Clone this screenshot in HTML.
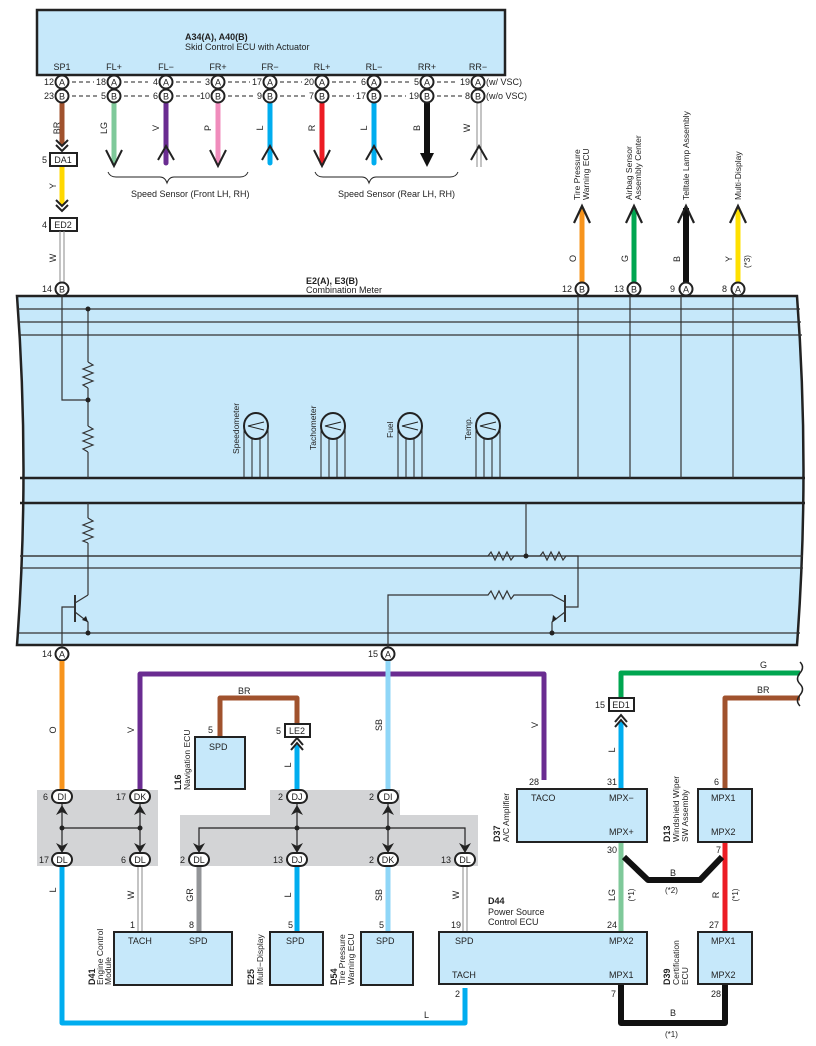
<!DOCTYPE html>
<html><head><meta charset="utf-8"><style>
body{margin:0;background:#fff}
svg{display:block;font-family:"Liberation Sans",sans-serif}
text{fill:#222}
</style></head><body>
<svg width="816" height="1046" viewBox="0 0 816 1046" xmlns="http://www.w3.org/2000/svg">
<defs>
<g id="ca"><circle r="6.5" fill="#fff" stroke="#222" stroke-width="2"/><text y="3.5" text-anchor="middle" font-size="9">A</text></g>
<g id="cb"><circle r="6.5" fill="#fff" stroke="#222" stroke-width="2"/><text y="3.5" text-anchor="middle" font-size="9">B</text></g>
</defs>
<!-- Top ECU box -->
<rect x="37" y="10" width="468" height="65" fill="#c6e8fa" stroke="#222" stroke-width="2.5"/>
<text x="185" y="40" font-size="9" font-weight="bold">A34(A), A40(B)</text>
<text x="185" y="50" font-size="9">Skid Control ECU with Actuator</text>
<g font-size="9" text-anchor="middle">
<text x="62" y="70">SP1</text><text x="114" y="70">FL+</text><text x="166" y="70">FL−</text><text x="218" y="70">FR+</text><text x="270" y="70">FR−</text><text x="322" y="70">RL+</text><text x="374" y="70">RL−</text><text x="427" y="70">RR+</text><text x="478" y="70">RR−</text>
</g>
<g stroke="#222" stroke-width="1" stroke-dasharray="4,3">
<line x1="72" y1="82" x2="94" y2="82"/><line x1="124" y1="82" x2="148" y2="82"/><line x1="176" y1="82" x2="202" y2="82"/><line x1="228" y1="82" x2="250" y2="82"/><line x1="280" y1="82" x2="302" y2="82"/><line x1="332" y1="82" x2="356" y2="82"/><line x1="384" y1="82" x2="410" y2="82"/><line x1="437" y1="82" x2="458" y2="82"/>
<line x1="72" y1="96" x2="98" y2="96"/><line x1="124" y1="96" x2="150" y2="96"/><line x1="176" y1="96" x2="200" y2="96"/><line x1="228" y1="96" x2="254" y2="96"/><line x1="280" y1="96" x2="306" y2="96"/><line x1="332" y1="96" x2="354" y2="96"/><line x1="384" y1="96" x2="406" y2="96"/><line x1="437" y1="96" x2="462" y2="96"/>
</g>
<g font-size="9" text-anchor="end">
<text x="54" y="85">12</text><text x="106" y="85">18</text><text x="158" y="85">4</text><text x="210" y="85">3</text><text x="262" y="85">17</text><text x="314" y="85">20</text><text x="366" y="85">6</text><text x="419" y="85">5</text><text x="470" y="85">19</text>
<text x="54" y="99">23</text><text x="106" y="99">5</text><text x="158" y="99">6</text><text x="210" y="99">10</text><text x="262" y="99">9</text><text x="314" y="99">7</text><text x="366" y="99">17</text><text x="419" y="99">19</text><text x="470" y="99">8</text>
</g>
<text x="486" y="85" font-size="9">(w/ VSC)</text><text x="486" y="99" font-size="9">(w/o VSC)</text>
<g stroke-linecap="round">
<line x1="114" y1="103" x2="114" y2="163" stroke="#7fc99a" stroke-width="5"/>
<line x1="166" y1="103" x2="166" y2="163" stroke="#6a2c91" stroke-width="5"/>
<line x1="218" y1="103" x2="218" y2="163" stroke="#f08cbc" stroke-width="5"/>
<line x1="270" y1="103" x2="270" y2="163" stroke="#00adef" stroke-width="5"/>
<line x1="322" y1="103" x2="322" y2="163" stroke="#ec1c24" stroke-width="5"/>
<line x1="374" y1="103" x2="374" y2="163" stroke="#00adef" stroke-width="5"/>
<line x1="427" y1="103" x2="427" y2="160" stroke="#111" stroke-width="6"/>
</g>
<line x1="477" y1="103" x2="477" y2="167" stroke="#888" stroke-width="1"/><line x1="481" y1="103" x2="481" y2="167" stroke="#888" stroke-width="1"/>
<g fill="none" stroke="#222" stroke-width="2">
<polyline points="106,150 114,166 122,150"/><polyline points="210,150 218,166 226,150"/><polyline points="314,150 322,166 330,150"/>
<polyline points="158,160 166,146 174,160"/><polyline points="262,160 270,146 278,160"/><polyline points="366,160 374,146 382,160"/><polyline points="471,160 479,146 487,160"/>
</g>
<polygon points="420,153 434,153 427,167" fill="#111"/>
<path d="M108,172 q2,5 8,5 H160 q5,0 7,6 q2,-6 7,-6 H240 q6,0 8,-5" fill="none" stroke="#222" stroke-width="1"/>
<path d="M315,172 q2,5 8,5 H362 q5,0 7,6 q2,-6 7,-6 H450 q6,0 8,-5" fill="none" stroke="#222" stroke-width="1"/>
<text x="131" y="197" font-size="9">Speed Sensor (Front LH,  RH)</text>
<text x="338" y="197" font-size="9">Speed Sensor (Rear LH,  RH)</text>
<g font-size="9">
<text transform="translate(60,128) rotate(-90)" text-anchor="middle">BR</text>
<text transform="translate(107,128) rotate(-90)" text-anchor="middle">LG</text>
<text transform="translate(159,128) rotate(-90)" text-anchor="middle">V</text>
<text transform="translate(211,128) rotate(-90)" text-anchor="middle">P</text>
<text transform="translate(263,128) rotate(-90)" text-anchor="middle">L</text>
<text transform="translate(315,128) rotate(-90)" text-anchor="middle">R</text>
<text transform="translate(367,128) rotate(-90)" text-anchor="middle">L</text>
<text transform="translate(420,128) rotate(-90)" text-anchor="middle">B</text>
<text transform="translate(470,128) rotate(-90)" text-anchor="middle">W</text>
</g>
<line x1="62" y1="103" x2="62" y2="145" stroke="#a0522d" stroke-width="5"/>
<g fill="none" stroke="#222" stroke-width="2"><polyline points="56,140 62,146 68,140"/><polyline points="56,145 62,151 68,145"/></g>
<rect x="50" y="153" width="27" height="13" fill="#fff" stroke="#222" stroke-width="2"/><text x="63" y="163" font-size="9" text-anchor="middle">DA1</text><text x="42" y="163" font-size="9">5</text>
<line x1="62" y1="167" x2="62" y2="205" stroke="#ffd800" stroke-width="5"/>
<text transform="translate(56,186) rotate(-90)" font-size="9" text-anchor="middle">Y</text>
<g fill="none" stroke="#222" stroke-width="2"><polyline points="56,200 62,206 68,200"/><polyline points="56,205 62,211 68,205"/></g>
<rect x="50" y="218" width="27" height="13" fill="#fff" stroke="#222" stroke-width="2"/><text x="63" y="228" font-size="9" text-anchor="middle">ED2</text><text x="42" y="228" font-size="9">4</text>
<line x1="60" y1="231" x2="60" y2="283" stroke="#888"/><line x1="64" y1="231" x2="64" y2="283" stroke="#888"/>
<text transform="translate(56,258) rotate(-90)" font-size="9" text-anchor="middle">W</text>
<!-- Top right wires -->
<line x1="582" y1="208" x2="582" y2="283" stroke="#f7941d" stroke-width="5"/>
<line x1="634" y1="208" x2="634" y2="283" stroke="#00a650" stroke-width="5"/>
<line x1="686" y1="208" x2="686" y2="283" stroke="#111" stroke-width="6"/>
<line x1="738" y1="208" x2="738" y2="283" stroke="#ffe000" stroke-width="5"/>
<g fill="none" stroke="#222" stroke-width="2.2"><polyline points="574,223 582,206 590,223"/><polyline points="626,223 634,206 642,223"/><polyline points="678,223 686,206 694,223"/><polyline points="730,223 738,206 746,223"/></g>
<g font-size="8.5">
<text transform="translate(580,200) rotate(-90)">Tire Pressure</text><text transform="translate(589,200) rotate(-90)">Warning ECU</text>
<text transform="translate(632,200) rotate(-90)">Airbag Sensor</text><text transform="translate(641,200) rotate(-90)">Assembly Center</text>
<text transform="translate(689,200) rotate(-90)">Telltale Lamp Assembly</text>
<text transform="translate(741,200) rotate(-90)">Multi-Display</text>
<text transform="translate(576,262) rotate(-90)" font-size="9">O</text>
<text transform="translate(628,262) rotate(-90)" font-size="9">G</text>
<text transform="translate(680,262) rotate(-90)" font-size="9">B</text>
<text transform="translate(732,262) rotate(-90)" font-size="9">Y</text>
<text transform="translate(750,268) rotate(-90)" font-size="8">(*3)</text>
</g>
<!-- Combination meter -->
<path d="M17,296 H797 Q810,470 797,645 H17 Q30,470 17,296 Z" fill="#c6e8fa" stroke="#222" stroke-width="2.5"/>
<g stroke="#333" stroke-width="1.2">
<line x1="18" y1="309" x2="800" y2="309"/><line x1="19" y1="322" x2="801" y2="322"/><line x1="20" y1="335" x2="802" y2="335"/>
<line x1="20" y1="556" x2="803" y2="556"/><line x1="20" y1="568" x2="803" y2="568"/><line x1="19" y1="633" x2="800" y2="633"/>
</g>
<g stroke="#222" stroke-width="2.5"><line x1="20" y1="478" x2="805" y2="478"/><line x1="20" y1="503" x2="805" y2="503"/></g>
<g fill="none" stroke="#333" stroke-width="1.2">
<polyline points="62,296 62,400 88,400"/>
<line x1="88" y1="309" x2="88" y2="362"/>
<polyline points="88,362 93,365 83,369 93,373 83,377 93,381 83,385 88,388"/>
<line x1="88" y1="388" x2="88" y2="426"/>
<polyline points="88,426 93,429 83,433 93,437 83,441 93,445 83,449 88,452"/>
<line x1="88" y1="452" x2="88" y2="478"/>
<line x1="578" y1="296" x2="578" y2="478"/><line x1="630" y1="296" x2="630" y2="478"/><line x1="681" y1="296" x2="681" y2="478"/><line x1="733" y1="296" x2="733" y2="478"/>
<line x1="88" y1="503" x2="88" y2="518"/>
<polyline points="88,518 93,521 83,525 93,529 83,533 93,537 83,541 88,543"/>
<line x1="88" y1="543" x2="88" y2="595"/>
<line x1="20" y1="556" x2="488" y2="556"/>
<polyline points="488,556 491,552 495,560 499,552 503,560 507,552 511,560 514,556 540,556"/>
<polyline points="540,556 543,552 547,560 551,552 555,560 559,552 563,560 566,556 578,556 578,607 565,607"/>
<line x1="526" y1="503" x2="526" y2="556"/>
<line x1="75" y1="595" x2="75" y2="622" stroke-width="2"/>
<polyline points="62,654 62,607 75,607"/>
<polyline points="75,603 88,595"/>
<polyline points="75,612 88,622 88,633"/>
<line x1="565" y1="595" x2="565" y2="622" stroke-width="2"/>
<polyline points="388,654 388,595 488,595 491,591 495,599 499,591 503,599 507,591 511,599 514,595 552,595 565,602"/>
<polyline points="565,612 552,622 552,633"/>
</g>
<g fill="#222"><circle cx="88" cy="309" r="2.5"/><circle cx="88" cy="400" r="2.5"/><circle cx="526" cy="556" r="2.5"/><circle cx="88" cy="633" r="2.5"/><circle cx="552" cy="633" r="2.5"/>
<polygon points="88,622 82,620 86,616"/><polygon points="552,622 553,615 557,619"/></g>
<g fill="none" stroke="#222">
<g transform="translate(256,426)"><line x1="-12" y1="0" x2="-12" y2="52"/><line x1="-4" y1="10" x2="-4" y2="52"/><line x1="4" y1="10" x2="4" y2="52"/><line x1="12" y1="0" x2="12" y2="52"/><ellipse rx="12" ry="13" fill="#c6e8fa" stroke-width="2"/><polyline points="-8,0 8,-4 -8,0 8,4"/></g>
<g transform="translate(333,426)"><line x1="-12" y1="0" x2="-12" y2="52"/><line x1="-4" y1="10" x2="-4" y2="52"/><line x1="4" y1="10" x2="4" y2="52"/><line x1="12" y1="0" x2="12" y2="52"/><ellipse rx="12" ry="13" fill="#c6e8fa" stroke-width="2"/><polyline points="-8,0 8,-4 -8,0 8,4"/></g>
<g transform="translate(410,426)"><line x1="-12" y1="0" x2="-12" y2="52"/><line x1="-4" y1="10" x2="-4" y2="52"/><line x1="4" y1="10" x2="4" y2="52"/><line x1="12" y1="0" x2="12" y2="52"/><ellipse rx="12" ry="13" fill="#c6e8fa" stroke-width="2"/><polyline points="-8,0 8,-4 -8,0 8,4"/></g>
<g transform="translate(488,426)"><line x1="-12" y1="0" x2="-12" y2="52"/><line x1="-4" y1="10" x2="-4" y2="52"/><line x1="4" y1="10" x2="4" y2="52"/><line x1="12" y1="0" x2="12" y2="52"/><ellipse rx="12" ry="13" fill="#c6e8fa" stroke-width="2"/><polyline points="-8,0 8,-4 -8,0 8,4"/></g>
</g>
<g font-size="8.5">
<text transform="translate(239,454) rotate(-90)">Speedometer</text>
<text transform="translate(316,450) rotate(-90)">Tachometer</text>
<text transform="translate(393,438) rotate(-90)">Fuel</text>
<text transform="translate(471,440) rotate(-90)">Temp.</text>
</g>
<text x="306" y="284" font-size="9" font-weight="bold">E2(A), E3(B)</text>
<text x="306" y="293" font-size="9">Combination Meter</text>
<text x="42" y="292" font-size="9">14</text><use href="#cb" x="62" y="289"/>
<text x="562" y="292" font-size="9">12</text><use href="#cb" x="582" y="289"/>
<text x="614" y="292" font-size="9">13</text><use href="#cb" x="634" y="289"/>
<text x="670" y="292" font-size="9">9</text><use href="#ca" x="686" y="289"/>
<text x="722" y="292" font-size="9">8</text><use href="#ca" x="738" y="289"/>
<text x="42" y="657" font-size="9">14</text><use href="#ca" x="62" y="654"/>
<text x="368" y="657" font-size="9">15</text><use href="#ca" x="388" y="654"/>
<g>
<use href="#ca" x="62" y="82"/><use href="#ca" x="114" y="82"/><use href="#ca" x="166" y="82"/><use href="#ca" x="218" y="82"/><use href="#ca" x="270" y="82"/><use href="#ca" x="322" y="82"/><use href="#ca" x="374" y="82"/><use href="#ca" x="427" y="82"/><use href="#ca" x="478" y="82"/>
<use href="#cb" x="62" y="96"/><use href="#cb" x="114" y="96"/><use href="#cb" x="166" y="96"/><use href="#cb" x="218" y="96"/><use href="#cb" x="270" y="96"/><use href="#cb" x="322" y="96"/><use href="#cb" x="374" y="96"/><use href="#cb" x="427" y="96"/><use href="#cb" x="478" y="96"/>
</g>
<rect x="37" y="790" width="121" height="76" fill="#d3d4d6"/>
<path d="M180,815 H270 V790 H400 V815 H478 V866 H180 Z" fill="#d3d4d6"/>
<g fill="none" stroke-linejoin="round">
<line x1="62" y1="661" x2="62" y2="790" stroke="#f7941d" stroke-width="5"/>
<polyline points="140,790 140,674 544,674 544,780" stroke="#6a2c91" stroke-width="5"/>
<line x1="388" y1="661" x2="388" y2="790" stroke="#8fd6f7" stroke-width="5"/>
<polyline points="220,737 220,698 297,698 297,723" stroke="#a0522d" stroke-width="5"/>
<line x1="297" y1="745" x2="297" y2="790" stroke="#00adef" stroke-width="5"/>
<polyline points="62,866 62,1023 465,1023 465,988" stroke="#00adef" stroke-width="5"/>
<line x1="199" y1="866" x2="199" y2="932" stroke="#939598" stroke-width="5"/>
<line x1="297" y1="866" x2="297" y2="932" stroke="#00adef" stroke-width="5"/>
<line x1="388" y1="866" x2="388" y2="932" stroke="#8fd6f7" stroke-width="5"/>
<polyline points="621,698 621,673 800,673" stroke="#00a650" stroke-width="5"/>
<polyline points="725,789 725,698 800,698" stroke="#a0522d" stroke-width="5"/>
<line x1="621" y1="722" x2="621" y2="789" stroke="#00adef" stroke-width="5"/>
<line x1="621" y1="843" x2="621" y2="932" stroke="#7fc99a" stroke-width="5"/>
<line x1="725" y1="843" x2="725" y2="932" stroke="#ec1c24" stroke-width="5"/>
<polyline points="624,857 648,880 700,880 722,857" stroke="#111" stroke-width="6"/>
<polyline points="621,984 621,1023 725,1023 725,984" stroke="#111" stroke-width="6"/>
</g>
<g stroke="#888" stroke-width="1">
<line x1="138" y1="866" x2="138" y2="932"/><line x1="142" y1="866" x2="142" y2="932"/>
<line x1="463" y1="866" x2="463" y2="932"/><line x1="467" y1="866" x2="467" y2="932"/>
</g>
<path d="M800,662 q5,5 0,11 q-5,6 0,11 q5,5 0,11 q-5,6 0,11" fill="none" stroke="#222" stroke-width="1.5"/>
<g stroke="#222" stroke-width="1.2" fill="none">
<line x1="62" y1="803" x2="62" y2="853"/><line x1="140" y1="803" x2="140" y2="853"/><line x1="62" y1="828" x2="140" y2="828"/>
<line x1="297" y1="803" x2="297" y2="853"/><line x1="388" y1="803" x2="388" y2="853"/>
<polyline points="199,853 199,828 465,828 465,853"/>
</g>
<g fill="#222">
<circle cx="62" cy="828" r="2.5"/><circle cx="140" cy="828" r="2.5"/><circle cx="297" cy="828" r="2.5"/><circle cx="388" cy="828" r="2.5"/>
<polygon points="56,815 62,805 68,815 62,812"/><polygon points="134,815 140,805 146,815 140,812"/><polygon points="291,815 297,805 303,815 297,812"/><polygon points="382,815 388,805 394,815 388,812"/>
<polygon points="56,843 62,846 68,843 62,853"/><polygon points="134,843 140,846 146,843 140,853"/><polygon points="193,843 199,846 205,843 199,853"/><polygon points="291,843 297,846 303,843 297,853"/><polygon points="382,843 388,846 394,843 388,853"/><polygon points="459,843 465,846 471,843 465,853"/>
</g>
<g font-size="9">
<g><rect x="52" y="790" width="20" height="13" rx="6.5" fill="#fff" stroke="#222" stroke-width="2"/><text x="62" y="800" text-anchor="middle">DI</text><text x="43" y="800">6</text></g>
<g><rect x="130" y="790" width="20" height="13" rx="6.5" fill="#fff" stroke="#222" stroke-width="2"/><text x="140" y="800" text-anchor="middle">DK</text><text x="116" y="800">17</text></g>
<g><rect x="287" y="790" width="20" height="13" rx="6.5" fill="#fff" stroke="#222" stroke-width="2"/><text x="297" y="800" text-anchor="middle">DJ</text><text x="278" y="800">2</text></g>
<g><rect x="378" y="790" width="20" height="13" rx="6.5" fill="#fff" stroke="#222" stroke-width="2"/><text x="388" y="800" text-anchor="middle">DI</text><text x="369" y="800">2</text></g>
<g><rect x="52" y="853" width="20" height="13" rx="6.5" fill="#fff" stroke="#222" stroke-width="2"/><text x="62" y="863" text-anchor="middle">DL</text><text x="39" y="863">17</text></g>
<g><rect x="130" y="853" width="20" height="13" rx="6.5" fill="#fff" stroke="#222" stroke-width="2"/><text x="140" y="863" text-anchor="middle">DL</text><text x="121" y="863">6</text></g>
<g><rect x="189" y="853" width="20" height="13" rx="6.5" fill="#fff" stroke="#222" stroke-width="2"/><text x="199" y="863" text-anchor="middle">DL</text><text x="180" y="863">2</text></g>
<g><rect x="287" y="853" width="20" height="13" rx="6.5" fill="#fff" stroke="#222" stroke-width="2"/><text x="297" y="863" text-anchor="middle">DJ</text><text x="273" y="863">13</text></g>
<g><rect x="378" y="853" width="20" height="13" rx="6.5" fill="#fff" stroke="#222" stroke-width="2"/><text x="388" y="863" text-anchor="middle">DK</text><text x="369" y="863">2</text></g>
<g><rect x="455" y="853" width="20" height="13" rx="6.5" fill="#fff" stroke="#222" stroke-width="2"/><text x="465" y="863" text-anchor="middle">DL</text><text x="441" y="863">13</text></g>
</g>
<g fill="none" stroke="#222" stroke-width="2"><polyline points="291,745 297,738 303,745"/><polyline points="291,750 297,743 303,750"/><polyline points="615,722 621,715 627,722"/><polyline points="615,727 621,720 627,727"/></g>
<rect x="285" y="724" width="25" height="13" fill="#fff" stroke="#222" stroke-width="2"/><text x="297" y="734" font-size="9" text-anchor="middle">LE2</text><text x="276" y="734" font-size="9">5</text>
<rect x="609" y="698" width="25" height="13" fill="#fff" stroke="#222" stroke-width="2"/><text x="621" y="708" font-size="9" text-anchor="middle">ED1</text><text x="595" y="708" font-size="9">15</text>
<g fill="#c6e8fa" stroke="#222" stroke-width="2">
<rect x="195" y="737" width="50" height="52"/>
<rect x="114" y="932" width="118" height="53"/>
<rect x="270" y="932" width="53" height="53"/>
<rect x="361" y="932" width="52" height="53"/>
<rect x="439" y="932" width="208" height="52"/>
<rect x="698" y="932" width="54" height="52"/>
<rect x="517" y="789" width="130" height="53"/>
<rect x="698" y="789" width="54" height="53"/>
</g>
<g font-size="9">
<text x="209" y="750">SPD</text><text x="208" y="733">5</text>
<text x="128" y="944">TACH</text><text x="189" y="944">SPD</text>
<text x="286" y="944">SPD</text><text x="376" y="944">SPD</text>
<text x="455" y="944">SPD</text><text x="452" y="978">TACH</text>
<text x="609" y="944">MPX2</text><text x="609" y="978">MPX1</text>
<text x="711" y="944">MPX1</text><text x="711" y="978">MPX2</text>
<text x="531" y="801">TACO</text><text x="609" y="801">MPX−</text><text x="609" y="835">MPX+</text>
<text x="711" y="801">MPX1</text><text x="711" y="835">MPX2</text>
<text x="130" y="928">1</text><text x="189" y="928">8</text><text x="288" y="928">5</text><text x="379" y="928">5</text><text x="451" y="928">19</text><text x="455" y="997">2</text>
<text x="607" y="928">24</text><text x="709" y="928">27</text><text x="611" y="997">7</text><text x="711" y="997">28</text>
<text x="529" y="785">28</text><text x="607" y="785">31</text><text x="607" y="853">30</text><text x="714" y="785">6</text><text x="716" y="853">7</text>
<text x="238" y="694">BR</text><text x="760" y="668">G</text><text x="757" y="693">BR</text>
<text x="424" y="1018">L</text><text x="670" y="876">B</text><text x="665" y="893" font-size="8">(*2)</text><text x="670" y="1016">B</text><text x="665" y="1037" font-size="8">(*1)</text>
</g>
<g font-size="9">
<text transform="translate(56,730) rotate(-90)" text-anchor="middle">O</text>
<text transform="translate(134,730) rotate(-90)" text-anchor="middle">V</text>
<text transform="translate(382,725) rotate(-90)" text-anchor="middle">SB</text>
<text transform="translate(538,725) rotate(-90)" text-anchor="middle">V</text>
<text transform="translate(291,765) rotate(-90)" text-anchor="middle">L</text>
<text transform="translate(615,750) rotate(-90)" text-anchor="middle">L</text>
<text transform="translate(56,890) rotate(-90)" text-anchor="middle">L</text>
<text transform="translate(134,895) rotate(-90)" text-anchor="middle">W</text>
<text transform="translate(193,895) rotate(-90)" text-anchor="middle">GR</text>
<text transform="translate(291,895) rotate(-90)" text-anchor="middle">L</text>
<text transform="translate(382,895) rotate(-90)" text-anchor="middle">SB</text>
<text transform="translate(459,895) rotate(-90)" text-anchor="middle">W</text>
<text transform="translate(615,895) rotate(-90)" text-anchor="middle">LG</text>
<text transform="translate(719,895) rotate(-90)" text-anchor="middle">R</text>
<text transform="translate(634,895) rotate(-90)" text-anchor="middle" font-size="8">(*1)</text>
<text transform="translate(738,895) rotate(-90)" text-anchor="middle" font-size="8">(*1)</text>
</g>
<g font-size="8.5">
<text transform="translate(181,790) rotate(-90)" font-weight="bold" font-size="9">L16</text><text transform="translate(190,790) rotate(-90)">Navigation ECU</text>
<text transform="translate(95,985) rotate(-90)" font-weight="bold" font-size="9">D41</text><text transform="translate(103,985) rotate(-90)">Engine Control</text><text transform="translate(111,985) rotate(-90)">Module</text>
<text transform="translate(254,985) rotate(-90)" font-weight="bold" font-size="9">E25</text><text transform="translate(263,985) rotate(-90)">Multi−Display</text>
<text transform="translate(337,985) rotate(-90)" font-weight="bold" font-size="9">D54</text><text transform="translate(345,985) rotate(-90)">Tire Pressure</text><text transform="translate(354,985) rotate(-90)">Warning ECU</text>
<text transform="translate(500,842) rotate(-90)" font-weight="bold" font-size="9">D37</text><text transform="translate(509,842) rotate(-90)">A/C Amplifier</text>
<text transform="translate(670,842) rotate(-90)" font-weight="bold" font-size="9">D13</text><text transform="translate(679,842) rotate(-90)">Windshield Wiper</text><text transform="translate(688,842) rotate(-90)">SW Assembly</text>
<text transform="translate(670,985) rotate(-90)" font-weight="bold" font-size="9">D39</text><text transform="translate(679,985) rotate(-90)">Certification</text><text transform="translate(688,985) rotate(-90)">ECU</text>
<text x="488" y="904" font-weight="bold" font-size="9">D44</text><text x="488" y="915" font-size="9">Power Source</text><text x="488" y="925" font-size="9">Control ECU</text>
</g>
</svg>
</body></html>
